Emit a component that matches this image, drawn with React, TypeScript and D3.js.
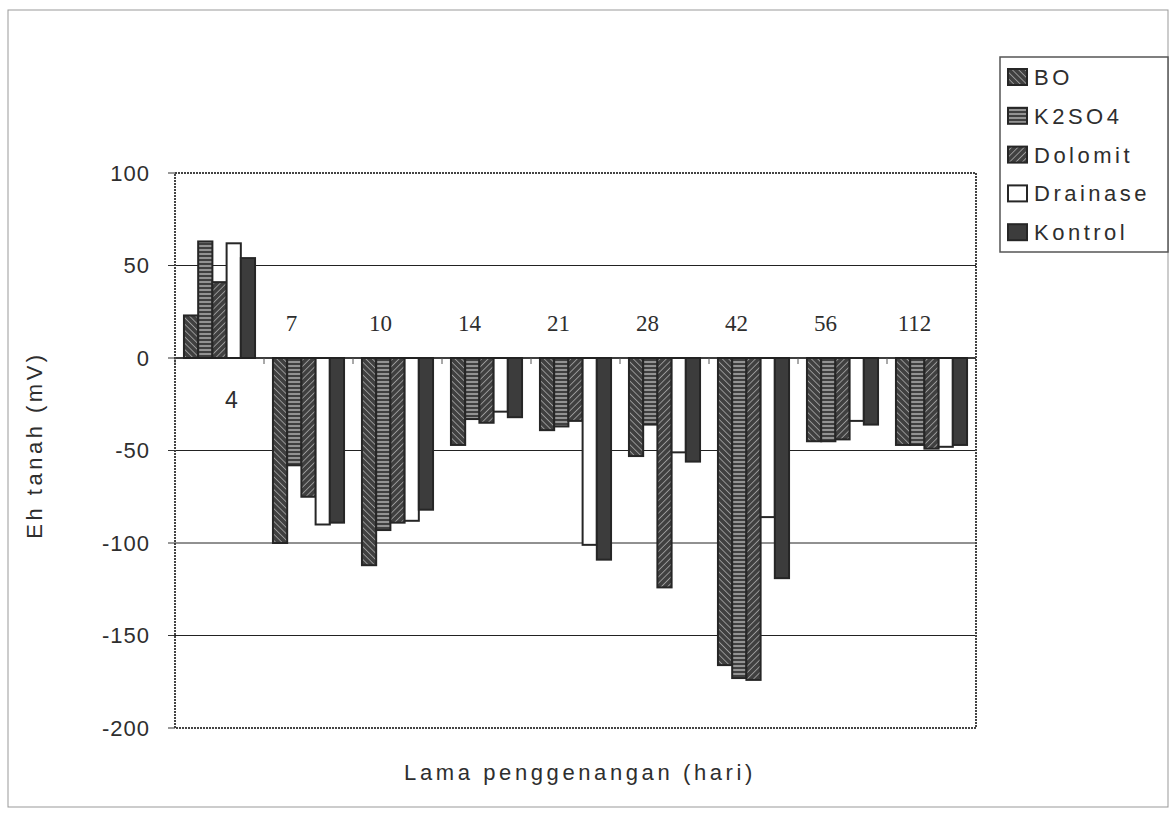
import React from "react";
import * as d3 from "d3";

const categories = ["4", "7", "10", "14", "21", "28", "42", "56", "112"];
const seriesNames = ["BO", "K2SO4", "Dolomit", "Drainase", "Kontrol"];
const BO = [23, -100, -112, -47, -39, -53, -166, -45, -47];
const K2SO4 = [63, -58, -93, -33, -37, -36, -173, -45, -47];
const Dolomit = [41, -75, -89, -35, -34, -124, -174, -44, -49];
const Drainase = [62, -90, -88, -29, -101, -51, -86, -34, -48];
const Kontrol = [54, -89, -82, -32, -109, -56, -119, -36, -47];
const yTicks = [100, 50, 0, -50, -100, -150, -200];

const seriesValues = [BO, K2SO4, Dolomit, Drainase, Kontrol];
const fills = ["url(#pBO)", "url(#pK2)", "url(#pDo)", "#ffffff", "#3c3c3c"];

const W = 1174;
const H = 813;
const plot = { left: 175, right: 976, top: 173, bottom: 728 };

export default function App() {
  const x = d3.scaleBand<string>().domain(categories).range([plot.left, plot.right]).padding(0);
  const xs = d3
    .scaleBand<string>()
    .domain(seriesNames)
    .range([0, x.bandwidth()])
    .paddingInner(0)
    .paddingOuter(0.63);
  const y = d3.scaleLinear().domain([-200, 100]).range([plot.bottom, plot.top]);
  const sans = "'Liberation Sans', Arial, sans-serif";
  const serif = "'Liberation Serif', 'Times New Roman', serif";
  const ink = "#2e2e2e";

  return (
    <svg width={W} height={H} style={{ position: "absolute", left: 0, top: 0, background: "#fff" }}>
      <defs>
        <pattern id="pBO" width="4.5" height="4.5" patternUnits="userSpaceOnUse" patternTransform="rotate(-45)">
          <rect width="4.5" height="4.5" fill="#404040" />
          <line x1="0" y1="0" x2="0" y2="4.5" stroke="#d8d8d8" strokeWidth="1.1" />
        </pattern>
        <pattern id="pK2" width="4" height="4" patternUnits="userSpaceOnUse">
          <rect width="4" height="4" fill="#404040" />
          <line x1="0" y1="2" x2="4" y2="2" stroke="#d8d8d8" strokeWidth="1.1" />
        </pattern>
        <pattern id="pDo" width="4.5" height="4.5" patternUnits="userSpaceOnUse" patternTransform="rotate(45)">
          <rect width="4.5" height="4.5" fill="#404040" />
          <line x1="0" y1="0" x2="0" y2="4.5" stroke="#d8d8d8" strokeWidth="1.1" />
        </pattern>
      </defs>

      {/* outer frame */}
      <rect x={8} y={10} width={1160} height={797} fill="none" stroke="#999" strokeWidth={1} />

      {/* gridlines */}
      {yTicks
        .filter((t) => t !== 100 && t !== -200)
        .map((t) => (
          <line key={"g" + t} x1={plot.left} x2={plot.right} y1={y(t)} y2={y(t)} stroke="#222" strokeWidth={1} />
        ))}

      {/* bars */}
      {categories.map((c, i) => (
        <g key={c}>
          {seriesNames.map((s, j) => {
            const v = seriesValues[j][i];
            const y0 = y(Math.max(0, v));
            const y1 = y(Math.min(0, v));
            return (
              <rect
                key={s}
                x={(x(c) as number) + (xs(s) as number)}
                y={y0}
                width={xs.bandwidth()}
                height={y1 - y0}
                fill={fills[j]}
                stroke="#262626"
                strokeWidth={2}
              />
            );
          })}
        </g>
      ))}

      {/* zero axis line & category ticks */}
      <line x1={plot.left} x2={plot.right} y1={y(0)} y2={y(0)} stroke="#222" strokeWidth={1.5} />
      {categories.map((c) => (
        <line
          key={"t" + c}
          x1={x(c) as number}
          x2={x(c) as number}
          y1={y(0)}
          y2={y(0) + 6}
          stroke="#555"
          strokeWidth={1}
        />
      ))}

      {/* plot border */}
      <rect
        x={plot.left}
        y={plot.top}
        width={plot.right - plot.left}
        height={plot.bottom - plot.top}
        fill="none"
        stroke="#444"
        strokeWidth={2}
        strokeDasharray="2 1"
      />

      {/* y ticks & labels */}
      {yTicks.map((t) => (
        <g key={"y" + t}>
          <line x1={plot.left - 7} x2={plot.left} y1={y(t)} y2={y(t)} stroke="#333" />
          <text
            x={150}
            y={y(t)}
            dy="0.35em"
            textAnchor="end"
            fontFamily={sans}
            fontSize={22}
            letterSpacing={1}
            fill={ink}
          >
            {t}
          </text>
        </g>
      ))}

      {/* category labels */}
      {categories.map((c, i) => {
        const positive = seriesValues.every((sv) => sv[i] >= 0);
        const cx = (x(c) as number) + x.bandwidth() / 2;
        return positive ? (
          <text key={"c" + c} x={cx + 12} y={y(0) + 50} textAnchor="middle" fontFamily={sans} fontSize={23} fill={ink}>
            {c}
          </text>
        ) : (
          <text key={"c" + c} x={cx - 17} y={y(0) - 27} textAnchor="middle" fontFamily={serif} fontSize={23} fill={ink}>
            {c}
          </text>
        );
      })}

      {/* axis titles */}
      <text
        transform={`translate(42, 445) rotate(-90)`}
        textAnchor="middle"
        fontFamily={sans}
        fontSize={22}
        letterSpacing={3.5}
        fill={ink}
      >
        Eh tanah (mV)
      </text>
      <text x={580} y={780} textAnchor="middle" fontFamily={sans} fontSize={22} letterSpacing={3.6} fill={ink}>
        Lama penggenangan (hari)
      </text>

      {/* legend */}
      <rect x={1000} y={57} width={168} height={195} fill="#fff" stroke="#555" strokeWidth={1.5} />
      {seriesNames.map((s, j) => {
        const cy = 77 + j * 38.8;
        return (
          <g key={"l" + s}>
            <rect x={1008} y={cy - 8} width={19} height={16} fill={fills[j]} stroke="#262626" strokeWidth={2} />
            <text x={1034} y={cy} dy="0.36em" fontFamily={sans} fontSize={22} letterSpacing={3.5} fill={ink}>
              {s}
            </text>
          </g>
        );
      })}
    </svg>
  );
}
